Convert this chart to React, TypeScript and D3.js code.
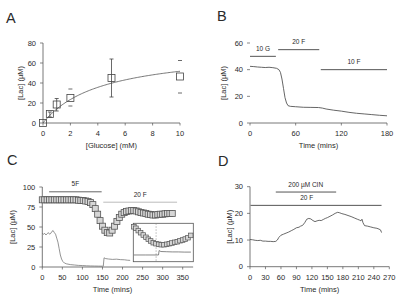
import * as d3 from "d3";

const FONT = "'Liberation Sans', Arial, sans-serif";
const INK = "#2a2a2a";
const AXIS = "#555";

// A: lactate release vs glucose concentration
const GLUCOSE_MM = [0, 0.5, 1, 2, 5, 10];
const LAC_MEAN = [0, 9, 18.5, 25, 45, 46.5];
const LAC_LOW = [0, 6, 12, 17, 26, 30];
const LAC_HIGH = [0, 11, 24.5, 34, 64, 62.5];
const LAC_STEM = [false, true, true, false, true, false];
const FIT_VMAX = 74;
const FIT_KM = 4.3;
const A_X_TICKS = [0, 2, 4, 6, 8, 10];
const A_Y_TICKS = [0, 20, 40, 60, 80];

// B: single trace, glucose then fructose
const B_TRACE: [number, number][] = [
  [0, 42.5], [5, 42.3], [10, 42], [15, 41.8], [20, 41.6], [25, 41.8], [30, 41.5],
  [35, 41], [38, 40], [40, 38], [42, 33], [44, 26], [46, 19], [48, 15], [50, 13],
  [53, 12.5], [60, 12.2], [70, 11.8], [80, 11.7], [90, 11.6], [95, 11.2], [100, 10.5],
  [110, 9.6], [120, 8.9], [130, 8], [140, 7.3], [150, 6.8], [160, 6.3], [170, 5.8], [180, 5.4],
];
const B_BARS = [
  { label: "10 G", start: 0, end: 34, level: 50 },
  { label: "20 F", start: 37, end: 91, level: 55 },
  { label: "10 F", start: 93, end: 180, level: 40 },
];
const B_X_TICKS = [0, 60, 120, 180];
const B_Y_TICKS = [0, 20, 40, 60];

// C: extracellular lactate (squares) and second trace (line)
const C_SQUARES: [number, number][] = [
  [0, 84], [6, 84], [12, 84], [18, 84], [24, 84], [30, 84], [36, 84], [42, 84], [48, 84],
  [54, 84], [60, 84], [66, 84], [72, 84], [78, 84], [84, 84], [90, 83.5], [96, 83],
  [102, 83], [108, 82.5], [114, 82], [120, 80.5], [126, 78], [132, 73], [138, 66],
  [144, 58], [150, 51], [156, 46], [162, 43], [168, 42.5], [174, 46], [180, 51],
  [186, 57], [192, 62], [198, 66], [204, 68], [210, 69.5], [216, 70], [222, 70.5],
  [228, 70.5], [234, 70], [240, 69], [246, 68], [252, 67.5], [258, 67], [264, 66],
  [270, 65.5], [276, 65], [282, 65], [288, 65.5], [294, 66], [300, 66], [306, 66.5],
  [312, 67], [318, 67], [324, 67],
];
const C_TRACE: [number, number][] = [
  [0, 42], [3, 41], [6, 42], [9, 40], [12, 41.5], [15, 43], [18, 41], [21, 42],
  [24, 44.5], [27, 45.5], [30, 43], [33, 41], [36, 36], [39, 31], [42, 23], [45, 15],
  [48, 10], [51, 7], [55, 5], [60, 4], [70, 3], [80, 2.5], [90, 2], [100, 1.8],
  [110, 1.5], [120, 1.3], [130, 1.2], [140, 1.1], [150, 1], [152, 1], [154, 11.5],
  [158, 10.5], [165, 10], [175, 9.5], [185, 9.8], [195, 9.2], [205, 9], [212, 8.5], [219, 8.3],
];
const C_BARS = [
  { label: "5F", start: 17, end: 148, level: 94, color: "#666" },
  { label: "20 F", start: 152, end: 336, level: 81, color: "#bbb" },
];
const C_X_TICKS = [0, 50, 100, 150, 200, 250, 300, 350];
const C_Y_TICKS = [0, 25, 50, 75, 100];

// C inset (own 0-100 units on both axes)
const INSET_SQUARES: [number, number][] = [
  [1, 91], [4.4, 87], [8.3, 81], [12.2, 75.5], [16.7, 69.5], [21.1, 63.5], [25, 58.5],
  [28.9, 54], [33.3, 49.5], [37.8, 47], [42.2, 45.3], [46.7, 44.3], [51.1, 44.3],
  [55.6, 45.3], [60, 47], [64.4, 48.7], [68.9, 50.5], [73.3, 52], [77.8, 54.7],
  [82.2, 56.5], [86.7, 59], [91.1, 62.5], [95.6, 68.5],
];
const INSET_TRACE: [number, number][] = [
  [1, 17.5], [20, 17.5], [42, 17.5], [43, 29], [46, 26.5], [55, 26], [65, 25.5],
  [75, 25.5], [85, 25], [96, 25],
];
const INSET_SWITCH = 38;

// D: trace under fructose with cinnamate
const D_TRACE: [number, number][] = [
  [0, 10.2], [5, 10.1], [10, 9.9], [15, 9.8], [20, 9.9], [25, 9.6], [30, 9.6], [35, 9.5],
  [40, 9.5], [45, 9.4], [50, 9.5], [53, 10], [56, 11], [60, 11.8], [65, 12.2], [70, 12.6],
  [75, 13], [80, 13.5], [85, 14], [90, 14.6], [95, 14.8], [98, 15.2], [102, 15.5],
  [106, 16.5], [110, 17.8], [114, 18.1], [118, 17.9], [122, 17.3], [126, 16.9], [130, 17.2],
  [134, 17.4], [138, 17.3], [142, 17.7], [146, 18.1], [150, 18.4], [155, 18.9], [160, 19.4],
  [165, 20], [170, 20.4], [174, 20.2], [178, 19.9], [184, 19.6], [190, 19.2], [196, 18.8],
  [202, 18.3], [208, 17.8], [212, 17.5], [215, 17.2], [217, 17.8], [219, 16.5], [222, 15.4],
  [228, 15.2], [234, 14.9], [240, 14.6], [246, 14.4], [250, 14.1], [253, 13.8], [255, 12.8],
];
const D_BARS = [
  { label: "200 µM CIN", start: 50, end: 167, level: 28, at: 108 },
  { label: "20 F", start: 1, end: 255, level: 23, at: 110 },
];
const D_X_TICKS = [0, 30, 60, 90, 120, 150, 180, 210, 240, 270];
const D_Y_TICKS = [0, 10, 20, 30];

type Lin = d3.ScaleLinear<number, number>;

function Axes({
  x, y, xTicks, yTicks, xTitle, yTitle, yTitleX, yLine = true, xEnd,
}: {
  x: Lin; y: Lin; xTicks: number[]; yTicks: number[]; xTitle: string; yTitle: string;
  yTitleX: number; yLine?: boolean; xEnd?: number;
}) {
  const x0 = x.range()[0];
  const x1 = xEnd ?? x.range()[1];
  const [yb, yt] = y.range();
  const titleX = (x0 + x(xTicks[xTicks.length - 1])) / 2;
  return (
    <g fill={INK} fontSize={7.5}>
      {yLine && <line x1={x0} x2={x0} y1={yb} y2={yt} stroke={AXIS} strokeWidth={0.8} />}
      <line x1={x0} x2={x1} y1={yb} y2={yb} stroke={AXIS} strokeWidth={0.8} />
      {yTicks.map((t) => (
        <g key={`y${t}`}>
          <line x1={x0 - 3} x2={x0} y1={y(t)} y2={y(t)} stroke={AXIS} strokeWidth={0.7} />
          <text x={x0 - 7} y={y(t)} dy="0.35em" textAnchor="end">{t}</text>
        </g>
      ))}
      {xTicks.map((t) => (
        <g key={`x${t}`}>
          <line x1={x(t)} x2={x(t)} y1={yb} y2={yb + 2.5} stroke={AXIS} strokeWidth={0.7} />
          <text x={x(t)} y={yb + 13} textAnchor="middle">{t}</text>
        </g>
      ))}
      <text x={titleX} y={yb + 25} textAnchor="middle">{xTitle}</text>
      <text transform={`translate(${yTitleX},${(yb + yt) / 2}) rotate(-90)`} textAnchor="middle" dy="0.35em">
        {yTitle}
      </text>
    </g>
  );
}

function Bars({ x, y, bars }: {
  x: Lin; y: Lin;
  bars: { label: string; start: number; end: number; level: number; color?: string; at?: number }[];
}) {
  return (
    <g fontSize={6.5} fill={INK}>
      {bars.map((b) => (
        <g key={b.label}>
          <line x1={x(b.start)} x2={x(b.end)} y1={y(b.level)} y2={y(b.level)} stroke={b.color ?? "#555"} strokeWidth={1} />
          <text x={x(b.at ?? (b.start + b.end) / 2)} y={y(b.level) - 5.5} textAnchor="middle">{b.label}</text>
        </g>
      ))}
    </g>
  );
}

function PanelLetter({ x, y, t }: { x: number; y: number; t: string }) {
  return <text x={x} y={y} fontSize={14.5} fill={INK}>{t}</text>;
}

const lineOf = (x: Lin, y: Lin) =>
  d3.line<[number, number]>().x((d) => x(d[0])).y((d) => y(d[1]));

function PanelA() {
  const x = d3.scaleLinear().domain([0, 10]).range([43, 180]);
  const y = d3.scaleLinear().domain([0, 80]).range([123, 43]);
  const fit = d3.range(0, 10.001, 0.1).map((g) => [g, (FIT_VMAX * g) / (FIT_KM + g)] as [number, number]);
  const s = 7;
  return (
    <g>
      <PanelLetter x={6} y={23} t="A" />
      <Axes x={x} y={y} xTicks={A_X_TICKS} yTicks={A_Y_TICKS} xTitle="[Glucose] (mM)" yTitle="[Lac] (µM)" yTitleX={20} />
      <path d={lineOf(x, y)(fit) ?? ""} fill="none" stroke="#555" strokeWidth={0.8} />
      {GLUCOSE_MM.map((g, i) => (
        <g key={g} stroke="#444" strokeWidth={0.8}>
          {LAC_STEM[i] && <line x1={x(g)} x2={x(g)} y1={y(LAC_LOW[i])} y2={y(LAC_HIGH[i])} />}
          {LAC_HIGH[i] > LAC_LOW[i] && (
            <>
              <line x1={x(g) - 2} x2={x(g) + 2} y1={y(LAC_HIGH[i])} y2={y(LAC_HIGH[i])} />
              <line x1={x(g) - 2} x2={x(g) + 2} y1={y(LAC_LOW[i])} y2={y(LAC_LOW[i])} />
            </>
          )}
          <rect x={x(g) - s / 2} y={y(LAC_MEAN[i]) - s / 2} width={s} height={s} fill="none" />
        </g>
      ))}
    </g>
  );
}

function PanelB() {
  const x = d3.scaleLinear().domain([0, 180]).range([250, 387]);
  const y = d3.scaleLinear().domain([0, 60]).range([123, 43]);
  return (
    <g>
      <PanelLetter x={217} y={21} t="B" />
      <Axes x={x} y={y} xTicks={B_X_TICKS} yTicks={B_Y_TICKS} xTitle="Time (mins)" yTitle="[Lac] (µM)" yTitleX={223} yLine={false} />
      <Bars x={x} y={y} bars={B_BARS} />
      <path d={lineOf(x, y)(B_TRACE) ?? ""} fill="none" stroke="#555" strokeWidth={0.9} />
    </g>
  );
}

function PanelC() {
  const x = d3.scaleLinear().domain([0, 350]).range([42.3, 182.7]);
  const y = d3.scaleLinear().domain([0, 100]).range([267, 187]);
  const ix = d3.scaleLinear().domain([0, 100]).range([133.3, 193.3]);
  const iy = d3.scaleLinear().domain([0, 100]).range([261.7, 223.3]);
  const s = 6;
  const si = 4.6;
  return (
    <g>
      <PanelLetter x={7} y={165} t="C" />
      <Axes x={x} y={y} xTicks={C_X_TICKS} yTicks={C_Y_TICKS} xTitle="Time (mins)" yTitle="[Lac] (µM)" yTitleX={12} xEnd={x(376)} />
      <Bars x={x} y={y} bars={C_BARS} />
      <path d={lineOf(x, y)(C_TRACE) ?? ""} fill="none" stroke="#666" strokeWidth={0.7} />
      {C_SQUARES.map(([t, v]) => (
        <rect key={t} x={x(t) - s / 2} y={y(v) - s / 2} width={s} height={s} fill="#d6d6d6" stroke="#555" strokeWidth={0.8} />
      ))}
      <rect x={133.3} y={223.3} width={60} height={38.4} fill="#fff" stroke="#555" strokeWidth={0.8} />
      <line x1={ix(INSET_SWITCH)} x2={ix(INSET_SWITCH)} y1={223.3} y2={261.7} stroke="#888" strokeWidth={0.6} strokeDasharray="1.5,1.5" />
      <path d={lineOf(ix, iy)(INSET_TRACE) ?? ""} fill="none" stroke="#555" strokeWidth={0.7} />
      {INSET_SQUARES.map(([t, v]) => (
        <rect key={t} x={ix(t) - si / 2} y={iy(v) - si / 2} width={si} height={si} fill="#d6d6d6" stroke="#555" strokeWidth={0.7} />
      ))}
    </g>
  );
}

function PanelD() {
  const x = d3.scaleLinear().domain([0, 270]).range([250, 389.3]);
  const y = d3.scaleLinear().domain([0, 30]).range([266.7, 186.7]);
  return (
    <g>
      <PanelLetter x={218} y={166} t="D" />
      <Axes x={x} y={y} xTicks={D_X_TICKS} yTicks={D_Y_TICKS} xTitle="Time (mins)" yTitle="[Lac] (µM)" yTitleX={229} />
      <Bars x={x} y={y} bars={D_BARS} />
      <path d={lineOf(x, y)(D_TRACE) ?? ""} fill="none" stroke="#444" strokeWidth={0.8} />
    </g>
  );
}

export default function App() {
  return (
    <svg
      width={404}
      height={303}
      viewBox="0 0 404 303"
      fontFamily={FONT}
      style={{ position: "absolute", left: 0, top: 0, background: "#fff" }}
    >
      <rect width={404} height={303} fill="#fff" />
      <PanelA />
      <PanelB />
      <PanelC />
      <PanelD />
    </svg>
  );
}
